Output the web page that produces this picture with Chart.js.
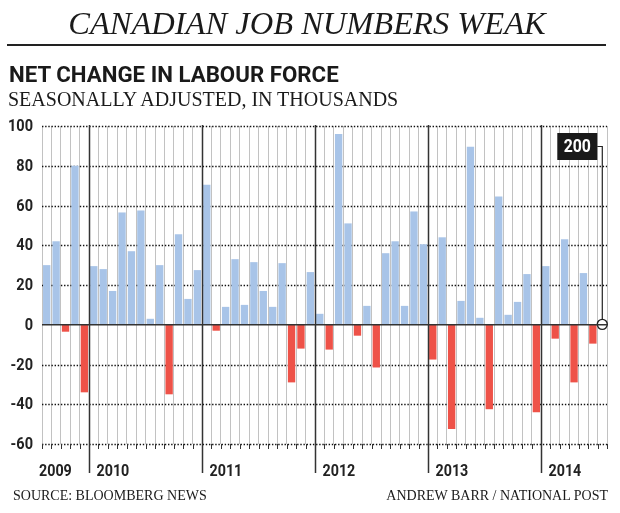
<!DOCTYPE html>
<html>
<head>
<meta charset="utf-8">
<script src="https://cdn.jsdelivr.net/npm/chart.js@4"></script>
<style>
  html, body { margin: 0; padding: 0; background: #fff; }
  body { width: 620px; height: 513px; position: relative; overflow: hidden; color: #1a1a1a; }
  #grafico { position: absolute; left: 0; top: 0; }
  .txt { position: absolute; white-space: nowrap; line-height: 1; }
  .titulo { left: 0; width: 614px; text-align: center; top: 5px; font: italic 32.5px "Liberation Serif", serif; }
  .regla { position: absolute; left: 7px; top: 44px; width: 599px; height: 1.5px; background: #222; }
  .subtitulo { left: 9px; top: 61px; font: bold 22.5px Roboto, sans-serif; transform: scaleX(0.99); transform-origin: left top; }
  .bajada { left: 8px; top: 88px; font: 20px "Liberation Serif", serif; }
  .fuente { left: 13px; top: 488px; font: 14px "Liberation Serif", serif; }
  .autor { right: 12px; top: 488px; font: 14px "Liberation Serif", serif; }
</style>
</head>
<body>
<canvas id="grafico" width="620" height="513"></canvas>
<div class="txt titulo">CANADIAN JOB NUMBERS WEAK</div>
<div class="regla"></div>
<div class="txt subtitulo">NET CHANGE IN LABOUR FORCE</div>
<div class="txt bajada">SEASONALLY ADJUSTED, IN THOUSANDS</div>
<div class="txt fuente">SOURCE: BLOOMBERG NEWS</div>
<div class="txt autor">ANDREW BARR / NATIONAL POST</div>
<script>
// Variación neta mensual de la fuerza laboral (miles), ago 2009 - jul 2014.
const ANIOS = ['2009', '2010', '2011', '2012', '2013', '2014'];
const MESES_CORTOS = ['Jan', 'Feb', 'Mar', 'Apr', 'May', 'Jun', 'Jul', 'Aug', 'Sep', 'Oct', 'Nov', 'Dec'];
const MES_INICIO = 7; // agosto 2009
const MES_FIN = 6;    // julio 2014

const VALORES_2009 = [30, 42, -3.5, 80, -34];
const VALORES_2010 = [29.5, 28, 17, 56.5, 37, 57.5, 3, 30, -35, 45.5, 13, 27.5];
const VALORES_2011 = [70.5, -3, 9, 33, 10, 31.5, 17, 9, 31, -29, -12, 26.5];
const VALORES_2012 = [5.5, -12.5, 96, 51, -5.5, 9.5, -21.5, 36, 42, 9.5, 57, 40.5];
const VALORES_2013 = [-17.5, 44, -52.5, 12, 89.5, 3.5, -42.5, 64.5, 5, 11.5, 25.5, -44];
const VALORES_2014 = [29.5, -7, 43, -29, 26, -9.5];
const ULTIMO_VALOR = 0.2; // julio 2014: +200 empleos

const Y_TICKS = [-60, -40, -20, 0, 20, 40, 60, 80, 100];

const AZUL = '#a8c4e8';
const ROJO = '#ee5248';
const FUENTE_COND = 'Roboto, "Liberation Sans", sans-serif';

// Etiquetas de meses (categorías)
const etiquetas = [];
for (let a = 0; a < ANIOS.length; a++) {
  const desde = a === 0 ? MES_INICIO : 0;
  const hasta = a === ANIOS.length - 1 ? MES_FIN : 11;
  for (let m = desde; m <= hasta; m++) etiquetas.push(MESES_CORTOS[m] + ' ' + ANIOS[a]);
}

const valoresBarras = [].concat(VALORES_2009, VALORES_2010, VALORES_2011, VALORES_2012, VALORES_2013, VALORES_2014, [null]);
const valoresPunto = etiquetas.map((_, i) => (i === etiquetas.length - 1 ? ULTIMO_VALOR : null));

function indicesEnero() {
  return etiquetas.map((l, i) => (l.startsWith('Jan') ? i : -1)).filter((i) => i >= 0);
}

// Texto "condensado": no hay fuente angosta instalada, se comprime en X.
function textoAngosto(ctx, txt, x, y, escala, align) {
  ctx.save();
  ctx.translate(x, y);
  ctx.scale(escala, 1);
  ctx.textAlign = align;
  ctx.fillText(txt, 0, 0);
  ctx.restore();
}

const adornos = {
  id: 'adornos',
  beforeDatasetsDraw(chart) {
    const { ctx, chartArea: ca, scales: { x, y } } = chart;
    ctx.save();
    // líneas punteadas horizontales
    ctx.strokeStyle = '#111';
    ctx.lineWidth = 1.5;
    ctx.setLineDash([1.4, 1.75]);
    for (const v of Y_TICKS) {
      if (v === 0) continue;
      const py = Math.round(y.getPixelForValue(v)) + 0.5;
      ctx.beginPath();
      ctx.moveTo(ca.left, py);
      ctx.lineTo(ca.right, py);
      ctx.stroke();
    }
    ctx.setLineDash([]);
    // marquitas inferiores en cada límite de mes
    const paso = x.getPixelForValue(1) - x.getPixelForValue(0);
    const yBase = y.getPixelForValue(-60);
    ctx.strokeStyle = '#333';
    ctx.lineWidth = 1;
    for (let i = 0; i <= etiquetas.length; i++) {
      const px = Math.round(x.getPixelForValue(0) - paso / 2 + i * paso) + 0.5;
      ctx.beginPath();
      ctx.moveTo(px, yBase);
      ctx.lineTo(px, yBase + 5);
      ctx.stroke();
    }
    // rótulos del eje Y
    ctx.fillStyle = '#222';
    ctx.font = 'bold 16.5px ' + FUENTE_COND;
    ctx.textBaseline = 'middle';
    for (const v of Y_TICKS) {
      textoAngosto(ctx, String(v), 33, y.getPixelForValue(v) + 1, 0.88, 'right');
    }
    // recuadro "200" con su conector
    const n = etiquetas.length - 1;
    const px = x.getPixelForValue(n);
    const py = y.getPixelForValue(ULTIMO_VALOR);
    const cajaY = 133, cajaH = 27, cajaW = 40, cajaX = px - 45;
    ctx.strokeStyle = '#222';
    ctx.lineWidth = 1.2;
    ctx.beginPath();
    ctx.moveTo(cajaX + cajaW, cajaY + cajaH / 2);
    ctx.lineTo(px, cajaY + cajaH / 2);
    ctx.lineTo(px, py - 5);
    ctx.stroke();
    ctx.fillStyle = '#1a1a1a';
    ctx.fillRect(cajaX, cajaY, cajaW, cajaH);
    ctx.fillStyle = '#fff';
    ctx.font = 'bold 18px ' + FUENTE_COND;
    ctx.textBaseline = 'middle';
    textoAngosto(ctx, String(Math.round(ULTIMO_VALOR * 1000)), cajaX + cajaW / 2, cajaY + cajaH / 2 + 1, 0.88, 'center');
    ctx.restore();
  },
  afterDatasetsDraw(chart) {
    const { ctx, chartArea: ca, scales: { x, y } } = chart;
    ctx.save();
    // línea del cero
    const y0 = y.getPixelForValue(0);
    ctx.strokeStyle = '#333';
    ctx.lineWidth = 1.6;
    ctx.beginPath();
    ctx.moveTo(ca.left, y0);
    ctx.lineTo(ca.right, y0);
    ctx.stroke();
    // separadores de año y rótulos
    const paso = x.getPixelForValue(1) - x.getPixelForValue(0);
    ctx.font = 'bold 17px ' + FUENTE_COND;
    ctx.fillStyle = '#222';
    ctx.textBaseline = 'alphabetic';
    textoAngosto(ctx, ANIOS[0], ca.left - 3, 476, 0.84, 'left');
    indicesEnero().forEach((i, k) => {
      const px = Math.round(x.getPixelForValue(i) - paso / 2) + 0.5;
      ctx.strokeStyle = '#333';
      ctx.lineWidth = 1.5;
      ctx.beginPath();
      ctx.moveTo(px, ca.top - 1);
      ctx.lineTo(px, 473);
      ctx.stroke();
      textoAngosto(ctx, ANIOS[k + 1], px + 7, 476, 0.84, 'left');
    });
    ctx.restore();
  },
};

new Chart(document.getElementById('grafico'), {
  data: {
    labels: etiquetas,
    datasets: [
      {
        type: 'line',
        label: 'Último dato',
        data: valoresPunto,
        showLine: false,
        pointRadius: 5,
        pointHoverRadius: 5,
        pointBackgroundColor: '#fff',
        pointBorderColor: '#222',
        pointBorderWidth: 1.4,
        clip: false,
        order: 0,
      },
      {
        type: 'bar',
        label: 'Net change',
        data: valoresBarras,
        backgroundColor: (c) => (c.raw < 0 ? ROJO : AZUL),
        barPercentage: 0.78,
        categoryPercentage: 1,
        order: 1,
      },
    ],
  },
  options: {
    responsive: false,
    animation: false,
    layout: { padding: { left: 0, right: 13, top: 126, bottom: 69 } },
    plugins: { legend: { display: false }, tooltip: { enabled: false } },
    scales: {
      x: {
        type: 'category',
        offset: true,
        grid: { offset: true, color: '#c2c2c2', lineWidth: 1, drawTicks: false },
        border: { display: false },
        ticks: { display: false },
        afterFit: (s) => { s.height = 0; },
      },
      y: {
        min: -60,
        max: 100,
        grid: { display: false },
        border: { display: false },
        ticks: { display: false },
        afterFit: (s) => { s.width = 42; },
      },
    },
  },
  plugins: [adornos],
});
</script>
</body>
</html>
